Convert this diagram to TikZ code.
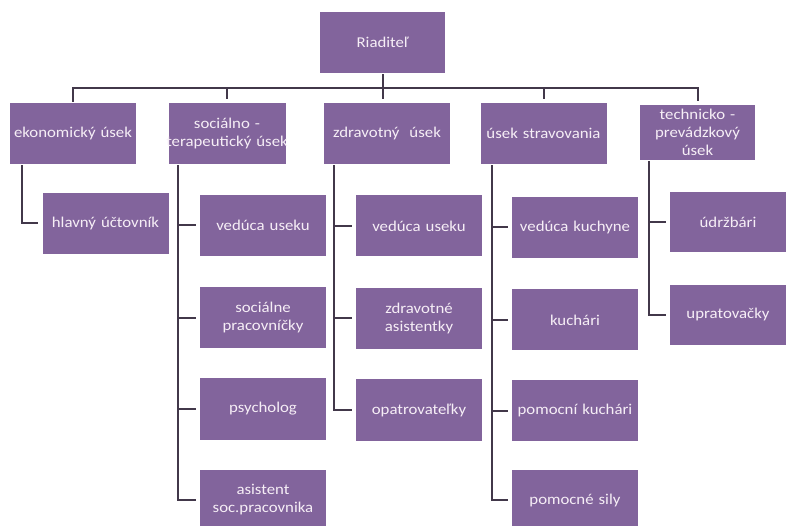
\documentclass[tikz,border=0pt]{standalone}
\usepackage{fontspec}
\setmainfont[FakeStretch=1.12]{Carlito}
\usetikzlibrary{positioning,calc}
\definecolor{boxpurple}{RGB}{130,100,156}
\definecolor{linkgray}{RGB}{66,56,74}
\definecolor{textwhite}{RGB}{246,238,246}

\begin{document}
\begin{tikzpicture}[x=1pt,y=-1pt]
\useasboundingbox (0,0) rectangle (787,526);

\tikzstyle{unit}=[fill=boxpurple,text=textwhite,inner xsep=0pt,inner ysep=0pt,text width=126pt,minimum height=61pt,align=center,font=\fontsize{15}{18}\selectfont]
\tikzstyle{link}=[draw=linkgray,line width=2pt,shorten <=1pt,shorten >=4pt]

 %director
 \node (riad) [unit,text width=125pt] at (382.5,42.5) {Riaditeľ};

 %sections
 \node (eko) [unit] at (73,133.5) {ekonomický úsek};
 \node (soc) [unit,text width=117pt] at (227,133.5) {sociálno -\\\makebox[\linewidth][c]{terapeutický úsek}};
 \node (zdr) [unit] at (387,133.5) {zdravotný~ úsek};
 \node (str) [unit] at (543.5,133.5) {úsek stravovania};
 \node (tech) [unit,text width=115pt,minimum height=55pt] at (697.5,132.5) {technicko -\\prevádzkový\\úsek};

 \coordinate (bus) at (383,88);
 \draw [link] (eko.north) |- (bus) -| (tech.north);
 \draw [link] (riad.south) -- (riad.south |- zdr.north);
 \draw [link,shorten <=0pt] (soc.north |- bus) -- (soc.north);
 \draw [link,shorten <=0pt] (str.north |- bus) -- (str.north);

 %ekonomicky
 \node (hu) [unit] at (105.5,223.5) {hlavný účtovník};
 \draw [link] ([xshift=12pt]eko.south west) |- (hu.west);

 %socialno-terapeuticky
 \node (socved) [unit] at (263,225.5) {vedúca useku};
 \node (socpr) [unit] at (263,318) {sociálne\\pracovníčky};
 \node (psy) [unit] at (263,409) {psycholog};
 \node (asis) [unit] at (263,500) {asistent\\soc.pracovnika};
 \foreach \n in {socved,socpr,psy,asis}
   \draw [link] ([xshift=10pt]soc.south west) |- (\n.west);

 %zdravotny
 \node (zdrved) [unit] at (419,226) {vedúca useku};
 \node (zdras) [unit] at (419,318.5) {zdravotné\\asistentky};
 \node (opat) [unit] at (419,410) {opatrovateľky};
 \foreach \n in {zdrved,zdras,opat}
   \draw [link] ([xshift=10pt]zdr.south west) |- (\n.west);

 %stravovanie
 \node (kved) [unit] at (575,227.5) {vedúca kuchyne};
 \node (kuch) [unit] at (575,320) {kuchári};
 \node (pkuch) [unit] at (575,410.5) {pomocní kuchári};
 \node (psil) [unit] at (575,500) {pomocné sily};
 \foreach \n in {kved,kuch,pkuch,psil}
   \draw [link] ([xshift=12pt]str.south west) |- (\n.west);

 %technicko-prevadzkovy
 \node (udrz) [unit,text width=116pt,minimum height=60pt] at (728,222) {údržbári};
 \node (uprat) [unit,text width=116pt,minimum height=60pt] at (728,315) {upratovačky};
 \foreach \n in {udrz,uprat}
   \draw [link] ([xshift=9pt]tech.south west) |- (\n.west);
\end{tikzpicture}
\end{document}
